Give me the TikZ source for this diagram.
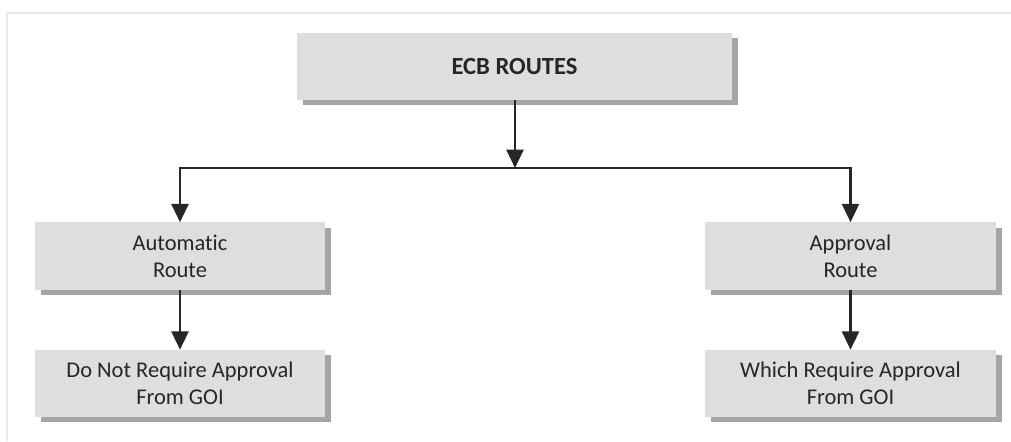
\documentclass[tikz,border=0pt]{standalone}
\usepackage{fontspec}
\setmainfont{Carlito}[Ligatures=NoCommon]
\usetikzlibrary{arrows.meta,shadows}

\definecolor{boxfill}{RGB}{222,222,220}
\definecolor{boxshade}{RGB}{165,165,165}
\definecolor{ink}{RGB}{38,38,38}
\definecolor{frame}{RGB}{232,232,232}

\begin{document}
\begin{tikzpicture}[
  x=0.025cm, y=-0.025cm,
  every node/.style={fill=boxfill,inner sep=0pt,minimum height=1.675cm,
    align=center,text=ink,font=\fontsize{16}{19}\selectfont,
    drop shadow={shadow xshift=0.15cm,shadow yshift=-0.13cm,fill=boxshade,opacity=1}},
  route/.style={minimum width=7.25cm},
  flow/.style={draw=ink,line width=1.9pt,-{Triangle[length=13pt,width=12pt]}},
  ]
  \useasboundingbox (0,0) rectangle (1011,441);
  \draw[frame,line width=0.8pt] (7,441) -- (7,13) -- (1011,13);

  \node[minimum width=10.875cm,font=\fontsize{17.5}{21}\selectfont\bfseries]
    (ecb) at (514.5,66.5) {ECB ROUTES};
  \node[route] (auto) at (180,256) {Automatic\\Route};
  \node[route] (appr) at (850.5,256) {Approval\\Route};
  \node[route] (noneed) at (180,383.5) {Do Not Require Approval\\From GOI};
  \node[route] (need) at (850.5,383.5) {Which Require Approval\\From GOI};

  \coordinate (split) at (515,168);
  \draw[flow] (ecb.south -| split) -- (split);
  \draw[flow] (split) -| (auto.north);
  \draw[flow] (split) -| (appr.north);
  \draw[flow] (auto) -- (noneed);
  \draw[flow] (appr) -- (need);
\end{tikzpicture}
\end{document}
